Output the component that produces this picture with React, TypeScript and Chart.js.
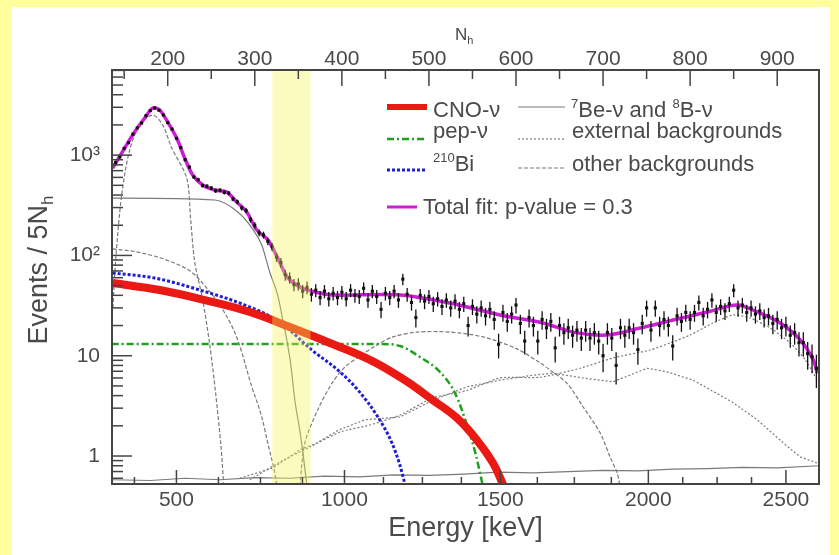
import React, { useEffect, useRef } from 'react';
import { Chart, registerables } from 'chart.js';

Chart.register(...registerables);

const FONT = '"Liberation Sans", Arial, Helvetica, sans-serif';
const TEXT = '#4a4a4a';
const FRAME = '#444';

const X_MIN = 136;
const X_MAX = 948;
const Y_MIN = 0.526;
const Y_MAX = 7060;

// axis ticks
const topTicks = [200, 300, 400, 500, 600, 700, 800, 900];
const topMinorTicks = [150, 250, 350, 450, 550, 650, 750, 850];
const energyLabels = ['500', '1000', '1500', '2000', '2500'];
const energyTickNh = [210, 403, 582, 752, 910];
const yTicks = [1, 10, 100, 1000];
const yTickLabels = ['1', '10', '10²', '10³'];
const yMinorTicks = [0.6, 0.7, 0.8, 0.9, 2, 3, 4, 5, 6, 7, 8, 9, 20, 30, 40, 50, 60, 70, 80, 90,
  200, 300, 400, 500, 600, 700, 800, 900, 2000, 3000, 4000, 5000, 6000, 7000];
const bandNh = [320, 364];

// data histogram (Events / 5 Nh), bins centred from 140 Nh
const BIN_START = 140;
const BIN_WIDTH = 5;
const dataCounts = [
  840, 960, 1170, 1330, 1620, 1870, 2090, 2470, 2780, 2950,
  2800, 2510, 2110, 1820, 1470, 1190, 900, 760, 605, 570,
  498, 490, 470, 441, 447, 425, 418, 365, 342, 298,
  280, 228, 200, 168, 160, 138, 122, 96, 85, 64,
  60, 51, 52, 44, 48, 41, 45, 38, 44, 37,
  42, 38, 43, 37, 45, 40, 39, 47, 36, 44,
  39, 29, 42, 38, 44, 36, 58, 41, 34, 24,
  40, 35, 39, 33, 37, 31, 36, 30, 35, 29,
  33, 20, 31, 26, 30, 25, 29, 23, 13, 27,
  22, 26, 32, 21, 14, 24, 20, 14, 23, 19,
  22, 12, 20, 17, 19, 16, 18, 15, 18, 15,
  17, 14, 10, 17, 15, 8, 19, 16, 19, 17,
  11.5, 21, 30, 18, 30, 20, 23, 20, 12.5, 25,
  22, 27, 23, 27, 34, 25, 29, 36, 27, 31,
  28, 33, 45, 30, 32, 27, 30, 26, 28, 24,
  25, 21, 23, 19, 20, 16, 17, 13.5, 13.5, 10.5,
  9.8, 7.5,
];

// total fit
const fitNh = [136.8, 150.6, 162, 173.6, 182.8, 190.8, 200, 210.3, 219.5, 228.7, 240.2, 254, 267.8, 279.3, 290.8,
  302.3, 315, 326.4, 337.9, 354, 369, 388.5, 466.7, 524, 581.6, 631, 665.5, 704.6, 742.5, 780.5, 819.5, 854,
  877, 903.4, 926.4, 941.4, 946];
const fitVal = [743, 1178, 1698, 2344, 2951, 2818, 2138, 1479, 935, 634, 504, 449, 429, 340, 271,
  179, 143, 94, 59.6, 47.3, 43.2, 40.3, 40.3, 33.5, 25.5, 21.2, 17.2, 16.1, 18.9, 22.7, 27.3, 32.1,
  27.3, 21.2, 14.4, 9.1, 6.7];

// CNO-nu
const cnoNh = [136.8, 190.8, 242.5, 294.3, 340.2, 386.2, 434.5, 472.4, 504.6, 532.2, 555.2, 573.6, 586];
const cnoVal = [53.1, 45.2, 35.9, 27.3, 19.3, 13.4, 8.9, 5.7, 3.6, 2.39, 1.44, 0.85, 0.5];
// pep-nu
const pepNh = [135.6, 443.7, 466.7, 489.7, 512.6, 529.9, 543.7, 554, 562];
const pepVal = [13.1, 13.1, 12.5, 9.7, 6.9, 4.25, 2.04, 1.02, 0.5];
// 210Bi
const biNh = [136.8, 185, 236.8, 288.5, 328.7, 365.5, 395.4, 418.4, 441.4, 457.5, 466.7, 473];
const biVal = [66.8, 59.5, 45.2, 32, 21.7, 11.4, 7.2, 4.55, 2.45, 1.35, 0.81, 0.5];
// 7Be-nu
const be7Nh = [136.8, 254, 280.5, 296.6, 308, 317.2, 326.4, 332.2, 336.8, 341.4, 346, 351.7, 356.3, 360.5];
const be7Val = [373, 357, 271, 188, 127, 68, 40, 22.7, 14.3, 8.1, 3.6, 1.8, 0.91, 0.45];
// 8B-nu
const b8Nh = [137, 180, 220, 260, 300, 340, 380, 420, 460, 500, 540, 580, 620, 660, 700, 740, 780, 820, 860, 900, 948];
const b8Val = [0.58, 0.57, 0.6, 0.58, 0.61, 0.6, 0.63, 0.62, 0.65, 0.64, 0.66, 0.69, 0.68, 0.7, 0.72, 0.71, 0.74, 0.75, 0.77, 0.76, 0.8];
// other backgrounds
const poNh = [137, 140.2, 147.1, 156.3, 167.8, 182.8, 194.3, 204.6, 221.8, 226.4, 231, 240.2, 248.3, 255.2, 261, 264.4];
const poVal = [30, 90, 400, 1124, 1995, 2512, 1995, 1177, 591, 225, 86, 36, 12.8, 4.1, 1.3, 0.5];
const krNh = [136.8, 165.5, 204.6, 227.6, 239.1, 265.5, 280.5, 296.6, 308, 314.9, 322.9, 325.5];
const krVal = [116, 108, 86, 68, 54, 26.7, 14.3, 4.9, 2.45, 1.35, 0.68, 0.5];
const c11Nh = [351.7, 357.5, 372.4, 388.5, 403.4, 420.7, 440.2, 458.6, 486.2, 524.1, 562, 601.1, 627.6, 639.1, 658.6,
  677, 696.6, 708, 716.1, 719.5];
const c11Val = [0.5, 1.35, 2.9, 5.3, 7.7, 9.9, 12.8, 15.4, 17.2, 17.2, 15.4, 11.7, 8.5, 7.2, 5.3, 3.1, 1.7, 0.98, 0.68, 0.5];
// external backgrounds
const ext1Nh = [282.8, 320.7, 351.7, 371.3, 395.4, 426.4, 466.7, 504.6, 543.7, 581.6, 619.5, 642.5, 677, 711.5, 750.6,
  773.6, 803.4, 831, 849.4, 877, 906.9, 926.4, 946];
const ext1Val = [0.6, 0.76, 1.15, 1.35, 1.8, 2.3, 2.45, 3.6, 4.9, 5.7, 6.4, 6.7, 6.0, 5.5, 7.5, 6.9, 5.7, 4.2, 3.4, 2.3,
  1.35, 0.98, 0.85];
const ext2Nh = [294.3, 328.7, 363.2, 397.7, 432.2, 466.7, 504.6, 543.7, 581.6, 627.6, 673.6, 711.5, 754, 777, 800,
  826.4, 849.4, 869, 892, 915, 932.2, 946];
const ext2Val = [0.58, 0.87, 1.23, 1.73, 2.04, 2.56, 3.8, 4.5, 6.0, 6.1, 7.5, 9.5, 11.4, 13.4, 16.1, 21.2, 25.5, 23.8,
  18.9, 13.4, 9.1, 5.7];

const RED = 'rgb(235,25,20)';
const GREEN = 'rgb(30,160,30)';
const BLUE = 'rgb(30,30,210)';
const MAGENTA = 'rgb(205,30,215)';
const GRAY = '#7a7a7a';

const pts = (xs: number[], ys: number[]) => xs.map((x, i) => ({ x, y: ys[i] }));

type Seg = { t: string; sup?: boolean; sub?: boolean };

function drawRich(ctx: CanvasRenderingContext2D, x: number, y: number, segs: Seg[], size: number, small: number, shift: number) {
  let cx = x;
  for (const s of segs) {
    if (s.sup || s.sub) {
      ctx.font = `${small}px ${FONT}`;
      ctx.fillText(s.t, cx, s.sup ? y - shift : y + shift);
    } else {
      ctx.font = `${size}px ${FONT}`;
      ctx.fillText(s.t, cx, y);
    }
    cx += ctx.measureText(s.t).width;
  }
  return cx - x;
}

function richWidth(ctx: CanvasRenderingContext2D, segs: Seg[], size: number, small: number) {
  let w = 0;
  for (const s of segs) {
    ctx.font = `${s.sup || s.sub ? small : size}px ${FONT}`;
    w += ctx.measureText(s.t).width;
  }
  return w;
}

const legendItems = [
  { segs: [{ t: 'CNO-ν' }], color: RED, width: 6, dash: [] as number[], lx: 375, lx2: 415, ly: 100, tx: 421, ty: 110 },
  { segs: [{ t: 'pep-ν' }], color: GREEN, width: 2.5, dash: [7, 3, 2, 3], lx: 375, lx2: 415, ly: 132, tx: 421, ty: 131 },
  { segs: [{ t: '210', sup: true }, { t: 'Bi' }], color: BLUE, width: 3, dash: [3, 2], lx: 375, lx2: 415, ly: 163, tx: 421, ty: 164 },
  { segs: [{ t: 'Total fit: p-value = 0.3' }], color: MAGENTA, width: 3, dash: [] as number[], lx: 375, lx2: 405, ly: 200, tx: 411, ty: 207 },
  { segs: [{ t: '7', sup: true }, { t: 'Be-ν and ' }, { t: '8', sup: true }, { t: 'B-ν' }], color: GRAY, width: 1.2, dash: [] as number[], lx: 506, lx2: 553, ly: 100, tx: 559, ty: 110 },
  { segs: [{ t: 'external backgrounds' }], color: GRAY, width: 1.2, dash: [2, 2], lx: 506, lx2: 553, ly: 132, tx: 560, ty: 131 },
  { segs: [{ t: 'other backgrounds' }], color: GRAY, width: 1.2, dash: [4, 2], lx: 506, lx2: 553, ly: 161, tx: 560, ty: 164 },
];

const overlayPlugin = {
  id: 'overlay',
  afterDatasetsDraw(chart: any) {
    const { ctx, chartArea: a, scales } = chart;
    const xs = scales.x;
    const ys = scales.y;
    ctx.save();
    ctx.beginPath();
    ctx.rect(a.left, a.top, a.right - a.left, a.bottom - a.top);
    ctx.clip();
    // error bars
    ctx.strokeStyle = '#111';
    ctx.lineWidth = 1.3;
    dataCounts.forEach((v, i) => {
      const px = xs.getPixelForValue(BIN_START + i * BIN_WIDTH);
      const e = Math.sqrt(v);
      const y1 = ys.getPixelForValue(v + e);
      const y2 = ys.getPixelForValue(Math.max(v - e, Y_MIN * 0.5));
      ctx.beginPath();
      ctx.moveTo(px, y1);
      ctx.lineTo(px, y2);
      ctx.stroke();
    });
    // highlighted band
    const bx1 = xs.getPixelForValue(bandNh[0]);
    const bx2 = xs.getPixelForValue(bandNh[1]);
    ctx.fillStyle = 'rgba(245,245,80,0.36)';
    ctx.fillRect(bx1, a.top, bx2 - bx1, a.bottom - a.top);
    ctx.restore();
  },
  afterDraw(chart: any) {
    const { ctx, chartArea: a, scales } = chart;
    const xs = scales.x;
    const ys = scales.y;
    ctx.save();
    // frame
    ctx.strokeStyle = FRAME;
    ctx.lineWidth = 2;
    ctx.strokeRect(a.left, a.top, a.right - a.left, a.bottom - a.top);
    ctx.lineWidth = 1.5;
    const line = (x1: number, y1: number, x2: number, y2: number) => {
      ctx.beginPath();
      ctx.moveTo(x1, y1);
      ctx.lineTo(x2, y2);
      ctx.stroke();
    };
    // top ticks
    topTicks.forEach((v) => { const p = xs.getPixelForValue(v); line(p, a.top, p, a.top + 16); });
    topMinorTicks.forEach((v) => { const p = xs.getPixelForValue(v); line(p, a.top, p, a.top + 9); });
    // bottom ticks (energy)
    const eMaj = energyTickNh.map((v) => xs.getPixelForValue(v));
    eMaj.forEach((p) => line(p, a.bottom, p, a.bottom - 14));
    for (let i = 0; i < eMaj.length; i++) {
      const step = i < eMaj.length - 1 ? (eMaj[i + 1] - eMaj[i]) / 4 : (eMaj[i] - eMaj[i - 1]) / 4;
      if (i < eMaj.length - 1) {
        for (let k = 1; k < 4; k++) { const p = eMaj[i] + k * step; line(p, a.bottom, p, a.bottom - 7); }
      }
      if (i === 0) {
        for (let p = eMaj[0] - step; p > a.left; p -= step) line(p, a.bottom, p, a.bottom - 7);
      }
      if (i === eMaj.length - 1) {
        for (let p = eMaj[i] + step; p < a.right; p += step) line(p, a.bottom, p, a.bottom - 7);
      }
    }
    // left ticks
    yTicks.forEach((v) => { const p = ys.getPixelForValue(v); line(a.left, p, a.left + 20, p); });
    yMinorTicks.forEach((v) => { const p = ys.getPixelForValue(v); line(a.left, p, a.left + 11, p); });

    // legend
    ctx.textBaseline = 'alphabetic';
    ctx.textAlign = 'left';
    legendItems.forEach((it) => {
      ctx.strokeStyle = it.color;
      ctx.lineWidth = it.width;
      ctx.setLineDash(it.dash);
      line(it.lx, it.ly, it.lx2, it.ly);
      ctx.setLineDash([]);
      ctx.fillStyle = TEXT;
      drawRich(ctx, it.tx, it.ty, it.segs, 22, 13, 9);
    });

    // y-axis title (rotated)
    ctx.fillStyle = TEXT;
    const ySegs: Seg[] = [{ t: 'Events / 5N' }, { t: 'h', sub: true }];
    const yw = richWidth(ctx, ySegs, 27, 17);
    ctx.save();
    ctx.translate(35, 263);
    ctx.rotate(-Math.PI / 2);
    drawRich(ctx, -yw / 2, 0, ySegs, 27, 17, 6);
    ctx.restore();

    // top axis title
    drawRich(ctx, 443, 33, [{ t: 'N' }, { t: 'h', sub: true }], 17, 11, 4);
    ctx.restore();
  },
};

export default function App() {
  const ref = useRef<HTMLCanvasElement>(null);
  useEffect(() => {
    if (!ref.current) return;
    Chart.defaults.font.family = FONT;
    Chart.defaults.color = TEXT;
    const lineDs = (label: string, xs: number[], ys: number[], color: string, width: number, dash: number[], order: number, mode: 'monotone' | 'default', tension = 0) => ({
      label,
      data: pts(xs, ys),
      borderColor: color,
      backgroundColor: color,
      borderWidth: width,
      borderDash: dash,
      pointRadius: 0,
      fill: false,
      cubicInterpolationMode: mode,
      tension,
      order,
    });
    const chart = new Chart(ref.current, {
      type: 'line',
      data: {
        datasets: [
          {
            label: 'Data',
            data: dataCounts.map((v, i) => ({ x: BIN_START + i * BIN_WIDTH, y: v })),
            showLine: false,
            pointStyle: 'rect',
            pointRadius: 2.2,
            pointBorderWidth: 0,
            backgroundColor: '#111',
            borderColor: '#111',
            order: 0,
          } as any,
          lineDs('Total fit', fitNh, fitVal, MAGENTA, 3.5, [], 1, 'default', 0.3),
          lineDs('CNO-ν', cnoNh, cnoVal, RED, 8, [], 2, 'default', 0.4),
          lineDs('210Bi', biNh, biVal, BLUE, 3, [3, 2], 3, 'monotone'),
          lineDs('pep-ν', pepNh, pepVal, GREEN, 2.5, [7, 3, 2, 3], 4, 'monotone'),
          lineDs('7Be-ν', be7Nh, be7Val, GRAY, 1.2, [], 5, 'monotone'),
          lineDs('8B-ν', b8Nh, b8Val, GRAY, 1.2, [], 5, 'default'),
          lineDs('210Po', poNh, poVal, GRAY, 1.2, [4, 2], 5, 'default', 0.3),
          lineDs('85Kr', krNh, krVal, GRAY, 1.2, [4, 2], 5, 'monotone'),
          lineDs('11C', c11Nh, c11Val, GRAY, 1.2, [4, 2], 5, 'default', 0.3),
          lineDs('ext 1', ext1Nh, ext1Val, GRAY, 1.2, [2, 2], 5, 'default'),
          lineDs('ext 2', ext2Nh, ext2Val, GRAY, 1.2, [2, 2], 5, 'default', 0.2),
        ] as any,
      },
      options: {
        animation: false,
        responsive: false,
        events: [],
        layout: { padding: { left: 0, right: 11, top: 0, bottom: 0 } },
        plugins: { legend: { display: false }, tooltip: { enabled: false } },
        scales: {
          x: {
            type: 'linear',
            position: 'top',
            min: X_MIN,
            max: X_MAX,
            afterBuildTicks: (s: any) => { s.ticks = topTicks.map((v) => ({ value: v })); },
            afterFit: (s: any) => { s.height = 63; },
            grid: { display: false, drawTicks: false },
            border: { display: false },
            ticks: { font: { size: 21 }, color: TEXT, padding: -2, maxRotation: 0, autoSkip: false, callback: (v: any) => String(v) },
          },
          x2: {
            type: 'linear',
            position: 'bottom',
            min: X_MIN,
            max: X_MAX,
            afterBuildTicks: (s: any) => { s.ticks = energyTickNh.map((v) => ({ value: v })); },
            afterFit: (s: any) => { s.height = 71; },
            grid: { display: false, drawTicks: false },
            border: { display: false },
            ticks: { font: { size: 21 }, color: TEXT, padding: 4, maxRotation: 0, autoSkip: false, callback: (_v: any, i: number) => energyLabels[i] },
            title: { display: true, text: 'Energy [keV]', font: { size: 27 }, color: TEXT, padding: { top: 0, bottom: 10 } },
          },
          y: {
            type: 'logarithmic',
            min: Y_MIN,
            max: Y_MAX,
            afterBuildTicks: (s: any) => { s.ticks = yTicks.map((v) => ({ value: v })); },
            afterFit: (s: any) => { s.width = 100; },
            grid: { display: false, drawTicks: false },
            border: { display: false },
            ticks: { font: { size: 21 }, color: TEXT, padding: 12, autoSkip: false, callback: (_v: any, i: number) => yTickLabels[i] },
          },
        },
      } as any,
      plugins: [overlayPlugin],
    });
    return () => chart.destroy();
  }, []);

  return (
    <div style={{ position: 'fixed', left: 0, top: 0, width: 839, height: 555, background: '#fefe9c' }}>
      <div style={{ position: 'absolute', left: 12, top: 7, width: 818, height: 548, background: '#ffffff' }}>
        <canvas ref={ref} width={818} height={548} style={{ display: 'block', width: 818, height: 548 }} />
      </div>
    </div>
  );
}
